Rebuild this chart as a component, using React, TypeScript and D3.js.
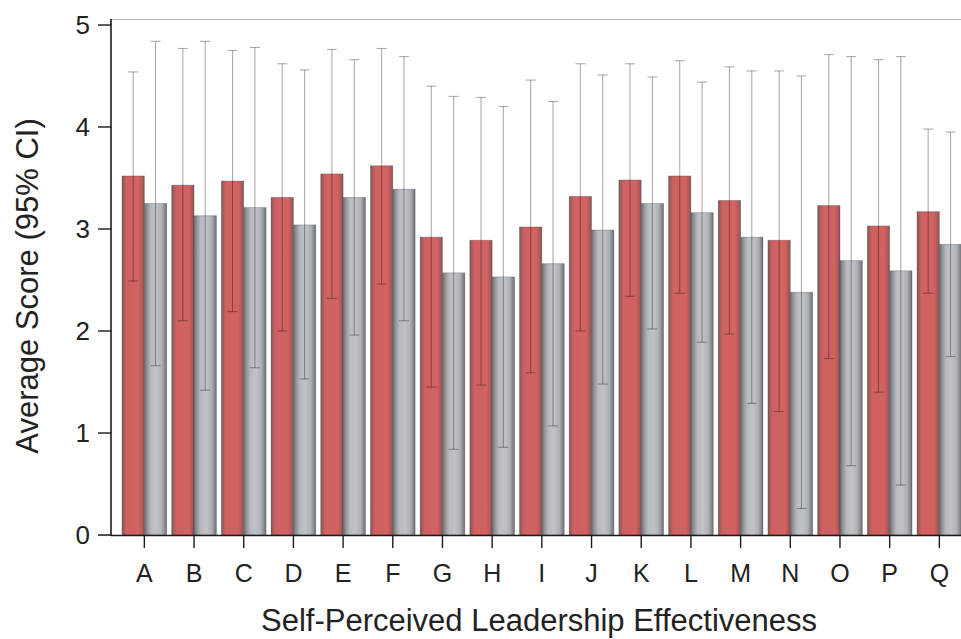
import React from "react";
import * as d3 from "d3";

const categories = ["A","B","C","D","E","F","G","H","I","J","K","L","M","N","O","P","Q"];
const seriesKeys = ["red", "grey"];
const redMean = [3.52,3.43,3.47,3.31,3.54,3.62,2.92,2.89,3.02,3.32,3.48,3.52,3.28,2.89,3.23,3.03,3.17];
const redUpper = [4.54,4.77,4.75,4.62,4.76,4.77,4.40,4.29,4.46,4.62,4.62,4.65,4.59,4.55,4.71,4.66,3.98];
const redLower = [2.49,2.10,2.19,2.00,2.32,2.46,1.45,1.47,1.59,2.00,2.34,2.37,1.97,1.21,1.73,1.40,2.37];
const greyMean = [3.25,3.13,3.21,3.04,3.31,3.39,2.57,2.53,2.66,2.99,3.25,3.16,2.92,2.38,2.69,2.59,2.85];
const greyUpper = [4.84,4.84,4.78,4.56,4.66,4.69,4.30,4.20,4.25,4.51,4.49,4.44,4.55,4.50,4.69,4.69,3.95];
const greyLower = [1.66,1.42,1.64,1.53,1.96,2.10,0.84,0.86,1.07,1.48,2.02,1.89,1.29,0.26,0.68,0.49,1.75];
const yTicks = [0,1,2,3,4,5];

const W = 961, H = 639;
const FONT = "'Liberation Sans', Arial, Helvetica, sans-serif";

export default function App() {
  const x = d3.scaleBand<string>().domain(categories).range([119.5, 964.2]).paddingInner(0.1).paddingOuter(0.05);
  const xs = d3.scaleBand<string>().domain(seriesKeys).range([0, x.bandwidth()]);
  const y = d3.scaleLinear().domain([0, 5]).range([535, 25]);

  const series = [
    { key: "red", mean: redMean, up: redUpper, lo: redLower, grad: "gRed" },
    { key: "grey", mean: greyMean, up: greyUpper, lo: greyLower, grad: "gGrey" },
  ];
  const bw = xs.bandwidth();

  return (
    <svg width={W} height={H} style={{ position: "absolute", left: 0, top: 0, background: "#fff" }}>
      <defs>
        <linearGradient id="gRed" x1="0" x2="1" y1="0" y2="0">
          <stop offset="0" stopColor="#7e5858" />
          <stop offset="0.08" stopColor="#a65a5a" />
          <stop offset="0.2" stopColor="#cf6161" />
          <stop offset="0.75" stopColor="#d16363" />
          <stop offset="0.9" stopColor="#b25a5a" />
          <stop offset="1" stopColor="#7e5858" />
        </linearGradient>
        <linearGradient id="gGrey" x1="0" x2="1" y1="0" y2="0">
          <stop offset="0" stopColor="#676b6f" />
          <stop offset="0.12" stopColor="#8f9397" />
          <stop offset="0.3" stopColor="#b7bbbf" />
          <stop offset="0.55" stopColor="#bfc3c6" />
          <stop offset="0.78" stopColor="#aeb2b6" />
          <stop offset="0.92" stopColor="#85898d" />
          <stop offset="1" stopColor="#6a6e72" />
        </linearGradient>
      </defs>

      {/* top frame line */}
      <line x1={111} x2={W} y1={19.5} y2={19.5} stroke="#b3b3b3" strokeWidth={1.2} />
      <line x1={98} x2={111} y1={535.5} y2={535.5} stroke="#bdbdbd" strokeWidth={1.2} />

      {/* bars */}
      {series.map((s) => (
        <g key={s.key}>
          {categories.map((c, i) => {
            const x0 = (x(c) as number) + (xs(s.key) as number);
            return (
              <rect key={c} x={x0} y={y(s.mean[i])} width={bw} height={y(0) - y(s.mean[i])}
                fill={`url(#${s.grad})`} stroke="rgba(60,60,60,0.35)" strokeWidth={0.8} />
            );
          })}
        </g>
      ))}

      {/* error bars */}
      {series.map((s) => (
        <g key={s.key + "e"} stroke="#000" strokeOpacity={0.33} strokeWidth={1.1}>
          {categories.map((c, i) => {
            const cx = (x(c) as number) + (xs(s.key) as number) + bw / 2;
            return (
              <g key={c}>
                <line x1={cx} x2={cx} y1={y(s.up[i])} y2={y(s.lo[i])} />
                <line x1={cx - 5} x2={cx + 5} y1={y(s.up[i])} y2={y(s.up[i])} />
                <line x1={cx - 5} x2={cx + 5} y1={y(s.lo[i])} y2={y(s.lo[i])} />
              </g>
            );
          })}
        </g>
      ))}

      {/* y axis */}
      <line x1={111} x2={111} y1={19} y2={536} stroke="#1a1a1a" strokeWidth={1.6} />
      {yTicks.map((t) => (
        <g key={t}>
          <line x1={98} x2={111} y1={y(t)} y2={y(t)} stroke="#1a1a1a" strokeWidth={1.4} />
          <text x={90} y={y(t)} dy="0.36em" textAnchor="end" fontFamily={FONT} fontSize={26} fill="#222">{t}</text>
        </g>
      ))}

      {/* x axis */}
      <line x1={111} x2={W} y1={535.5} y2={535.5} stroke="#1a1a1a" strokeWidth={1.6} />
      {categories.map((c) => {
        const cx = (x(c) as number) + x.bandwidth() / 2;
        return (
          <g key={c}>
            <line x1={cx} x2={cx} y1={535} y2={548} stroke="#1a1a1a" strokeWidth={1.4} />
            <text x={cx} y={582} textAnchor="middle" fontFamily={FONT} fontSize={25} fill="#222">{c}</text>
          </g>
        );
      })}

      <text x={539} y={631} textAnchor="middle" fontFamily={FONT} fontSize={31} fill="#222">Self-Perceived Leadership Effectiveness</text>
      <text transform={`translate(38,286) rotate(-90)`} textAnchor="middle" fontFamily={FONT} fontSize={31} fill="#222">Average Score (95% CI)</text>
    </svg>
  );
}
